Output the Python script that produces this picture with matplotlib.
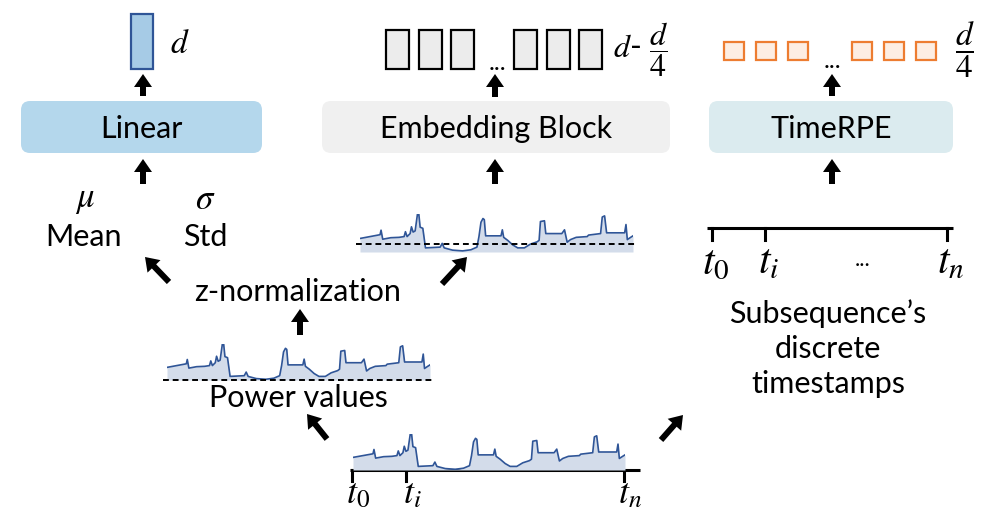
import numpy as np
import matplotlib.pyplot as plt
from matplotlib.patches import Rectangle, FancyBboxPatch, FancyArrow

plt.rcParams['font.family'] = ['Lato', 'DejaVu Sans']
plt.rcParams['mathtext.fontset'] = 'stix'

# power curve (sample position, level above the floor)
sample_pos = [68, 128, 131, 136, 160, 185, 200, 204, 209, 218, 222, 227, 233, 240, 244,
              248, 256, 264, 308, 314, 320, 345, 375, 400, 418, 424, 430, 436, 440, 444,
              490, 494, 498, 510, 525, 540, 560, 578, 598, 604, 608, 620, 624, 672, 680,
              688, 698, 715, 748, 752, 788, 793, 800, 806, 860, 864, 868, 878, 885]
power = [35, 45, 57, 33, 37, 38, 40, 53, 40, 48, 66, 52, 55, 100, 100,
         65, 62, 10, 12, 22, 10, 4, 2, 5, 12, 40, 78, 88, 85, 42,
         42, 58, 38, 30, 18, 10, 10, 20, 26, 30, 80, 82, 48, 48, 58,
         25, 32, 38, 40, 44, 48, 92, 95, 50, 50, 72, 32, 38, 42]
# level of the dashed reference line in the normalised sketch
norm_level = 20

block_labels = ['Linear', 'Embedding Block', 'TimeRPE']
block_colors = ['#b4d7ec', '#f0f0f0', '#dbebef']
n_embed_cells = 3
n_time_cells = 3

W, H = 994, 510
fig = plt.figure(figsize=(W / 100, H / 100), dpi=100)
ax = fig.add_axes([0, 0, 1, 1])
ax.set_xlim(0, W)
ax.set_ylim(H, 0)
ax.axis('off')

TXT = 22
LINE = '#2f5597'
FILL = '#d3dcea'


def arrow(x0, y0, x1, y1):
    ax.add_patch(FancyArrow(x0, y0, x1 - x0, y1 - y0, width=6, head_width=18,
                            head_length=13, length_includes_head=True,
                            color='black', lw=0))


def series_axes(x0, x1, ytop, ybot, lo, hi):
    a = fig.add_axes([x0 / W, 1 - ybot / H, (x1 - x0) / W, (ybot - ytop) / H])
    a.set_xlim(sample_pos[0], sample_pos[-1])
    a.set_ylim(lo, hi)
    a.axis('off')
    return a


# blocks
for (bx0, bx1), lab, col in zip([(21, 262), (322, 670), (709, 953)], block_labels, block_colors):
    ax.add_patch(FancyBboxPatch((bx0, 102), bx1 - bx0, 52,
                                boxstyle='round,pad=0,rounding_size=9',
                                fc=col, ec='none'))
    ax.text((bx0 + bx1) / 2, 129, lab, ha='center', va='center', fontsize=TXT)

# Linear branch
ax.add_patch(Rectangle((131, 15), 22, 55, fc='#a6cbe6', ec=LINE, lw=1.6))
ax.text(170, 44, r'$d$', fontsize=24, va='center', ha='left')
arrow(143, 97, 143, 75)
arrow(143, 185, 143, 160)
ax.text(85, 200, r'$\mu$', fontsize=25, ha='center', va='center')
ax.text(205, 199, r'$\sigma$', fontsize=25, ha='center', va='center')
ax.text(84, 237, 'Mean', fontsize=TXT, ha='center', va='center')
ax.text(205, 237, 'Std', fontsize=TXT, ha='center', va='center')

# embedding cells
for i in range(n_embed_cells):
    ax.add_patch(Rectangle((386 + 32.7 * i, 31), 23, 39, fc='#ececec', ec='black', lw=1.6))
    ax.add_patch(Rectangle((514 + 32.7 * i, 31), 23, 39, fc='#ececec', ec='black', lw=1.6))
ax.text(497, 62, '...', fontsize=18, ha='center', va='center')
ax.text(613, 50, r'$d$- $\dfrac{d}{4}$', fontsize=23, ha='left', va='center')
arrow(495, 98, 495, 75)
arrow(495, 185, 495, 160)

# TimeRPE cells
for i in range(n_time_cells):
    ax.add_patch(Rectangle((724 + 32 * i, 43), 20, 18, fc='#fdeee3', ec='#ed7d31', lw=1.6))
    ax.add_patch(Rectangle((852 + 32 * i, 43), 20, 18, fc='#fdeee3', ec='#ed7d31', lw=1.6))
ax.text(832, 60, '...', fontsize=18, ha='center', va='center')
ax.text(965, 50, r'$\dfrac{d}{4}$', fontsize=24, ha='center', va='center')
arrow(832, 97, 832, 75)
arrow(832, 185, 832, 160)

# timestamp axis
ax.plot([707, 953], [229, 229], color='black', lw=2.2, solid_capstyle='butt')
for tx, lab in zip([712, 765, 947], [r'$t_0$', r'$t_i$', r'$t_n$']):
    ax.plot([tx, tx], [229, 241], color='black', lw=2.2)
    ax.text(tx + 4, 262, lab, fontsize=30, ha='center', va='center')
ax.text(863, 260, '...', fontsize=16, ha='center', va='center')
ax.text(828, 349, 'Subsequence\u2019s\ndiscrete\ntimestamps', fontsize=TXT,
        ha='center', va='center', linespacing=1.3)

# z-normalization
ax.text(298, 292, 'z-normalization', fontsize=TXT, ha='center', va='center')
arrow(169, 283, 145, 258)
arrow(442, 285, 467, 258)
arrow(300, 336, 300, 310)

# normalised series
zn = np.array(power, dtype=float) - norm_level
span = zn.max() - zn.min()
floor = zn.min() - 0.03 * span
a1 = series_axes(360, 633, 215, 253, floor, zn.max())
a1.fill_between(sample_pos, zn, floor, color=FILL, lw=0)
a1.plot(sample_pos, zn, color=LINE, lw=1.2)
a1.plot([55, 895], [0, 0], color='black', lw=1.4, ls=(0, (3, 2)), clip_on=False)

# raw power series
a2 = series_axes(167, 430, 345, 381, 0, max(power))
a2.fill_between(sample_pos, power, 0, color=FILL, lw=0)
a2.plot(sample_pos, power, color=LINE, lw=1.2)
a2.plot([55, 892], [0, 0], color='black', lw=1.4, ls=(0, (3, 2)), clip_on=False)
ax.text(298, 398, 'Power values', fontsize=TXT, ha='center', va='center')
arrow(327, 440, 307, 415)
arrow(661, 441, 683, 416)

# bottom subsequence
a3 = series_axes(353, 625, 435, 471, 0, max(power))
a3.fill_between(sample_pos, power, 0, color=FILL, lw=0)
a3.plot(sample_pos, power, color=LINE, lw=1.2)
ax.plot([350, 640], [471, 471], color='black', lw=2.2, solid_capstyle='butt')
for tx, lab in zip([352, 406, 624], [r'$t_0$', r'$t_i$', r'$t_n$']):
    ax.plot([tx, tx], [471, 482], color='black', lw=2.2)
    ax.text(tx + 6, 494, lab, fontsize=26, ha='center', va='center')

fig.savefig('out.png', dpi=100)
